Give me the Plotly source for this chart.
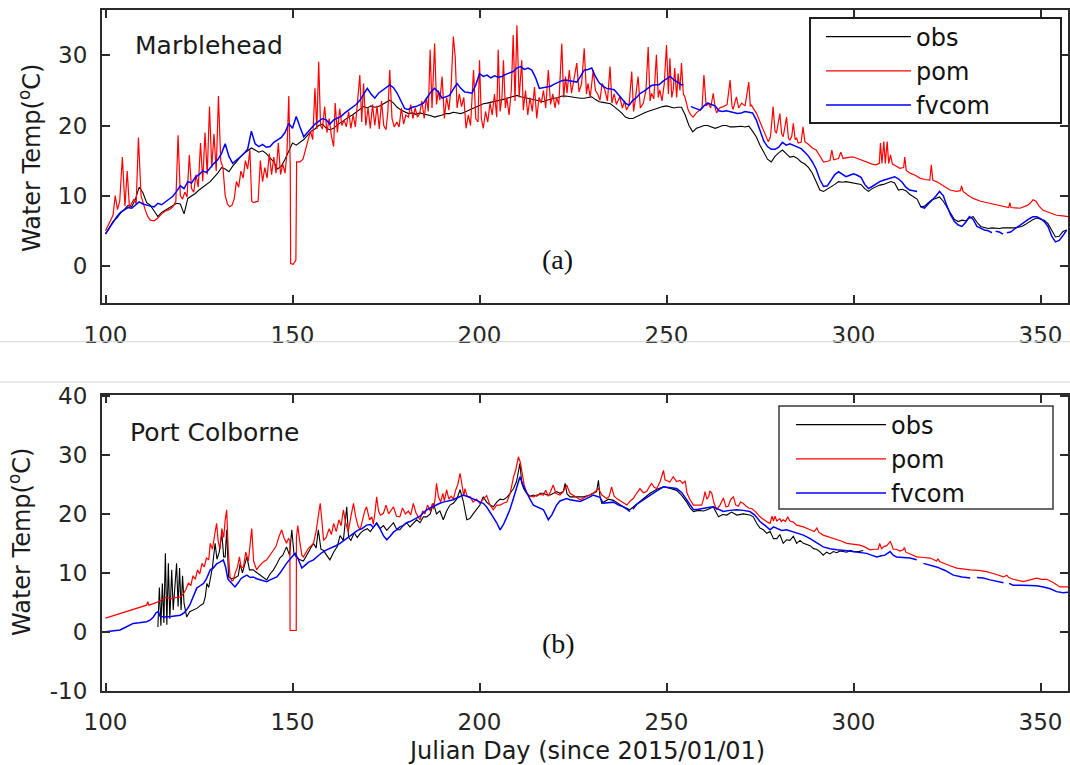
import plotly.graph_objects as go

# ---------------- DATA (Julian day, water temperature °C) ----------------
# (a) Marblehead
mh_obs = [(100,4.6),(101,5.5),(102,6.3),(103,6.8),(104,7.5),(105,8.0),(106,8.6),(107,8.4),(108,9.5),(109,11.2),(110,10.4),(111,9.0),(112,8.6),(113,7.8),(114,7.0),(115,7.6),(116,7.9),(117,8.2),(118,8.6),(119,8.9),(120,8.8),(121,7.4),(122,9.6),(123,9.9),(124,10.3),(125,10.8),(126,11.2),(127,11.6),(128,12.0),(129,12.6),(130,13.2),(131,14.0),(132,13.8),(133,13.4),(134,14.2),(135,14.8),(136,15.5),(137,16.0),(138,16.4),(139,16.8),(140,16.5),(141,16.2),(142,16.4),(143,16.0),(144,15.4),(145,14.8),(146,13.8),(147,14.2),(148,15.2),(149,16.3),(150,17.5),(151,17.2),(152,17.6),(153,18.0),(154,18.6),(155,19.2),(156,19.5),(157,20.0),(158,20.2),(159,19.6),(160,19.4),(161,19.6),(162,20.1),(163,20.5),(164,20.8),(165,21.2),(166,21.5),(167,21.9),(168,22.3),(169,22.7),(170,22.5),(171,22.8),(172,22.6),(173,22.7),(174,23.0),(175,23.3),(176,23.6),(177,23.2),(178,22.6),(179,22.2),(180,21.9),(181,21.7),(182,21.8),(183,21.6),(184,21.8),(185,21.7),(186,21.5),(187,21.4),(188,21.2),(189,21.3),(190,21.5),(191,21.7),(192,21.7),(193,21.9),(194,21.8),(195,21.7),(196,21.9),(197,22.2),(198,22.4),(199,22.6),(200,22.9),(201,23.1),(202,23.2),(203,23.3),(204,23.4),(205,23.5),(206,23.6),(207,23.8),(208,24.0),(209,24.2),(210,24.3),(211,24.1),(212,24.0),(213,23.9),(214,23.8),(215,23.6),(216,23.5),(217,23.4),(218,23.6),(219,23.8),(220,23.9),(221,24.0),(222,24.2),(223,24.2),(224,24.1),(225,24.1),(226,24.0),(227,23.9),(228,23.9),(229,24.0),(230,24.1),(231,23.7),(232,23.4),(233,23.3),(234,23.2),(235,23.1),(236,22.7),(237,22.3),(238,21.8),(239,21.2),(240,21.0),(241,21.0),(242,21.3),(243,21.6),(244,21.8),(245,22.0),(246,22.2),(247,22.4),(248,22.6),(249,22.7),(250,22.8),(251,22.7),(252,22.5),(253,22.6),(254,22.6),(255,21.5),(256,20.0),(257,19.1),(258,19.6),(259,19.8),(260,20.0),(261,20.0),(262,19.8),(263,19.6),(264,19.8),(265,20.0),(266,20.0),(267,19.8),(268,19.8),(269,19.9),(270,19.9),(271,19.8),(272,19.9),(273,19.2),(274,18.4),(275,17.2),(276,16.2),(277,15.2),(278,14.8),(279,15.6),(280,16.1),(281,16.5),(282,16.0),(283,15.5),(284,15.6),(285,15.3),(286,14.8),(287,14.5),(288,14.0),(289,13.2),(290,12.0),(291,10.8),(292,10.6),(293,10.9),(294,11.3),(295,11.6),(296,12.0),(297,11.9),(298,12.0),(299,11.9),(300,11.9),(301,11.8),(302,11.6),(303,11.0),(304,10.6),(305,11.0),(306,11.3),(307,11.5),(308,11.6),(309,11.8),(310,12.0),(311,11.8),(312,10.8),(313,10.9),(314,10.7),(315,10.2),(316,9.8),(317,9.5),(318,8.4),(319,8.5),(320,9.0),(321,9.4),(322,9.6),(323,9.8),(324,9.2),(325,8.3),(326,7.6),(327,6.6),(328,6.3),(329,6.5),(330,6.4),(331,6.8),(332,7.0),(333,6.2),(334,5.6),(335,5.4),(336,5.3),(337,5.4),(338,5.3),(339,5.3),(340,5.4),(341,5.4),(342,5.3),(343,5.4),(344,5.5),(345,5.6),(346,5.9),(347,6.3),(348,6.6),(349,6.8),(350,6.6),(351,6.5),(352,6.0),(353,5.0),(354,4.1),(355,4.2),(356,4.9),(357,5.1)]

mh_pom = [(100,5.0),(101,6.2),(102,7.2),(102.6,10.0),(103.2,8.0),(103.8,9.2),(104.5,15.5),(105.2,8.5),(105.8,13.5),(106.4,8.3),(107,9.0),(107.6,9.5),(108.2,8.8),(108.8,18.3),(109.5,10.0),(110,9.0),(110.6,8.0),(111.3,7.0),(112,6.5),(113,6.4),(114,6.8),(115,7.4),(116,7.8),(117,8.0),(118,8.4),(118.8,9.2),(119.4,18.6),(120,10.0),(120.6,9.5),(121.2,10.5),(121.8,9.8),(122.4,15.8),(123,11.0),(123.6,10.5),(124.2,13.0),(124.8,11.2),(125.4,17.5),(126,12.0),(126.6,19.0),(127.2,13.0),(127.8,22.7),(128.4,14.0),(129,18.8),(129.6,13.5),(130.2,24.2),(130.8,15.0),(131.4,14.0),(132,10.0),(132.6,8.8),(133.2,8.4),(133.8,8.6),(134.4,9.5),(135,12.0),(135.6,11.2),(136.2,13.5),(136.8,12.5),(137.4,15.0),(138,13.8),(138.6,16.5),(139.1,9.2),(139.6,9.0),(140.2,9.1),(140.8,9.2),(141.4,15.0),(142,12.0),(142.6,14.0),(143.2,12.5),(143.8,16.0),(144.4,13.0),(145,15.5),(145.6,13.2),(146.2,17.5),(146.8,13.0),(147.4,14.5),(148,13.2),(148.5,16.0),(149,24.2),(149.4,14.0),(149.5,0.3),(150.2,0.2),(150.9,0.8),(151.1,14.8),(152,14.8),(152.8,15.2),(153.5,16.5),(154.2,17.8),(154.8,19.2),(155.4,18.0),(156,25.3),(156.5,19.5),(157,29.1),(157.5,20.0),(158,19.5),(158.6,22.7),(159.2,19.0),(159.8,21.0),(160.4,18.5),(161,17.0),(161.4,23.2),(162,19.0),(162.6,22.4),(163.2,20.0),(163.8,20.8),(164.4,19.8),(165,22.0),(165.6,19.6),(166.2,21.5),(166.8,19.8),(167.5,23.5),(168,27.2),(168.5,20.5),(169,26.0),(169.6,20.0),(170.2,22.5),(170.8,19.6),(171.4,23.0),(172,20.0),(172.6,22.8),(173.2,19.5),(173.8,23.5),(174.4,20.0),(175,19.4),(175.5,22.0),(176,27.9),(176.6,21.0),(177.2,19.8),(177.9,20.5),(178.5,19.8),(179.1,22.5),(179.7,20.2),(180.3,21.5),(181,21.2),(181.6,23.0),(182.2,21.0),(182.8,22.5),(183.4,21.2),(184,21.7),(184.6,23.5),(185.2,21.0),(185.8,24.0),(186.3,22.0),(186.8,30.8),(187.3,22.5),(188,31.7),(188.5,23.0),(189,25.0),(189.4,23.6),(190,27.0),(190.6,21.0),(191.2,24.0),(191.8,22.2),(192.4,25.5),(193,32.7),(193.5,29.8),(194,22.5),(194.6,24.5),(195.2,22.7),(195.8,24.0),(196.4,19.6),(197,21.5),(197.6,20.0),(198.4,27.9),(199,21.0),(199.6,20.5),(200,29.3),(200.5,21.0),(201,19.6),(201.6,22.0),(202.2,20.5),(202.8,23.2),(203.4,21.5),(204,24.5),(204.6,21.2),(205,30.8),(205.5,22.0),(206,24.0),(206.4,29.3),(206.9,22.5),(207.3,24.0),(207.9,21.5),(208.5,25.0),(209,32.9),(209.5,23.5),(210,34.3),(210.6,24.0),(211.3,29.3),(211.7,22.2),(212.3,25.0),(212.9,21.5),(213.5,24.0),(214.1,22.0),(214.7,25.5),(215.3,21.0),(215.9,24.0),(216.5,23.2),(217.1,25.0),(217.7,22.5),(218.4,27.9),(219,23.0),(219.6,24.5),(220.2,22.5),(220.6,24.0),(221.2,23.0),(222,31.7),(222.5,24.0),(223,27.0),(223.4,24.6),(224,27.9),(224.6,24.6),(225.3,26.5),(226,28.9),(226.6,24.8),(227.3,26.0),(228,31.0),(228.6,24.5),(229,26.0),(229.6,24.0),(230.4,27.9),(231,25.0),(231.6,24.5),(232.2,23.6),(232.8,26.0),(233.5,25.1),(234.2,23.5),(234.9,28.4),(235.4,23.2),(236,24.5),(236.6,23.0),(237.5,24.1),(238.2,22.5),(238.8,23.5),(239.3,22.2),(240,23.0),(240.7,27.7),(241.2,22.0),(241.6,23.5),(242.4,27.0),(243,22.5),(243.8,23.2),(244.5,25.0),(245.1,31.2),(245.6,23.5),(246,24.6),(246.6,23.8),(247.3,30.1),(247.8,24.0),(248.2,25.1),(248.8,23.5),(249.4,26.0),(250,31.5),(250.5,24.5),(250.9,29.6),(251.4,24.0),(251.8,25.1),(252.2,28.2),(252.7,24.0),(253.1,27.4),(253.6,25.0),(254,28.9),(254.5,24.5),(254.9,24.1),(255.8,22.2),(256.5,21.5),(257.1,21.2),(258,21.8),(258.9,22.2),(259.5,22.5),(260,27.2),(260.6,22.8),(261.2,23.2),(261.8,22.5),(262.5,24.6),(263,22.5),(263.4,21.8),(264.2,22.5),(265.2,22.7),(266.2,23.0),(267,26.5),(267.5,22.8),(267.8,22.3),(268.7,24.1),(269.3,22.5),(270.1,23.2),(271,22.8),(272,26.2),(272.4,22.8),(272.7,22.9),(273.4,22.3),(274.1,21.7),(275,20.5),(275.9,19.4),(276.6,18.4),(277.2,17.7),(277.8,18.4),(278.5,22.7),(279,19.2),(279.4,18.9),(280.3,21.7),(280.8,18.8),(281.2,18.4),(282.1,21.2),(282.6,18.2),(283,17.9),(283.5,18.5),(283.9,20.3),(284.4,18.0),(284.8,18.2),(285.2,17.5),(286,17.6),(286.5,19.8),(287,17.7),(288,17.3),(289,16.8),(290,16.5),(291,15.6),(292,14.8),(293,14.9),(293.7,15.0),(294.2,16.5),(294.7,15.1),(296,15.3),(296.6,16.2),(297.2,15.3),(298,15.4),(299,15.5),(300,15.5),(301,15.3),(302,15.0),(303,14.8),(304,14.6),(305,14.5),(306,14.4),(306.9,14.6),(307.2,17.5),(307.6,14.6),(308.1,17.7),(308.5,14.6),(309,17.7),(309.4,14.6),(309.9,15.8),(310.4,14.5),(311.5,14.2),(312.4,13.9),(313.4,14.0),(313.7,15.5),(314.1,13.6),(315.1,13.2),(316.5,12.9),(317.8,12.5),(319,12.3),(320.4,12.2),(320.8,14.4),(321.2,12.2),(322.2,12.0),(324,11.4),(325.8,10.8),(327.5,10.6),(328.6,10.7),(328.9,11.4),(329.3,10.6),(330.5,10.1),(332,9.6),(334,9.2),(336.5,8.9),(338,8.7),(340,8.4),(341.5,8.3),(341.8,9.0),(342.1,8.3),(344.5,8.2),(346.5,8.6),(347.2,8.9),(348,9.4),(348.8,9.2),(349.6,8.5),(350.7,7.9),(352.5,7.6),(354.3,7.2),(356,7.1),(357.4,7.0)]

mh_fvcom = [(100,4.5),(101,5.4),(102,6.3),(103,7.0),(104,7.6),(105,8.0),(106,8.3),(107,8.2),(108,8.6),(109,9.1),(110,8.8),(111,8.6),(112,8.5),(113,8.4),(114,8.9),(115,8.7),(116,9.1),(117,9.6),(118,9.9),(119,10.6),(120,11.4),(121,11.0),(122,12.0),(123,11.8),(124,12.6),(125,13.0),(126,13.5),(127,13.3),(128,14.0),(129,14.6),(130,15.1),(131,16.0),(132,17.4),(133,15.6),(134,14.6),(135,15.0),(136,15.5),(137,16.0),(138,16.6),(139,19.2),(140,17.4),(141,17.0),(142,17.3),(143,16.9),(144,17.0),(145,17.6),(146,17.9),(147,18.3),(148,19.0),(149,20.3),(150,19.6),(151,21.3),(152,19.8),(153,18.4),(154,19.0),(155,19.6),(156,20.2),(157,20.6),(158,21.0),(159,20.8),(160,20.2),(161,20.8),(162,21.0),(163,21.3),(164,21.8),(165,22.2),(166,22.6),(167,23.0),(168,23.6),(169,24.4),(170,25.3),(171,24.5),(172,23.9),(173,24.6),(174,25.0),(175,25.4),(176,25.8),(177,25.4),(178,24.6),(179,23.5),(180,22.4),(181,22.3),(182,22.6),(183,22.7),(184,22.9),(185,23.2),(186,24.0),(187,24.8),(188,25.3),(189,24.8),(190,23.9),(191,24.1),(192,24.3),(193,25.2),(194,26.0),(195,25.3),(196,24.8),(197,24.7),(198,24.6),(199,25.8),(200,27.4),(201,27.0),(202,27.2),(203,26.8),(204,27.1),(205,26.9),(206,27.0),(207,27.3),(208,27.5),(209,27.7),(210,28.2),(211,28.4),(212,28.0),(213,28.2),(214,27.9),(215,26.8),(216,25.3),(217,25.4),(218,25.5),(219,25.6),(220,25.9),(221,26.2),(222,26.4),(223,26.5),(224,26.4),(225,26.3),(226,26.2),(227,27.0),(228,27.9),(229,28.0),(230,28.2),(231,27.0),(232,26.1),(233,25.6),(234,25.3),(235,25.2),(236,25.1),(237,24.5),(238,23.8),(239,23.2),(240,22.9),(241,23.6),(242,24.0),(243,24.6),(244,24.9),(245,25.3),(246,25.7),(247,25.8),(248,25.8),(249,26.3),(250,26.7),(251,27.0),(252,26.5),(253,26.2),(254,25.8),(254.5,25.8),(255,None),(256.5,22.7),(257,22.6),(258,22.4),(259,22.2),(260,22.8),(261,23.2),(262,23.0),(263,22.8),(264,22.1),(265,22.0),(266,22.1),(267,22.0),(268,21.8),(269,21.7),(270,21.8),(271,22.0),(272,21.9),(273,21.8),(274,20.8),(275,19.4),(276,17.8),(277,17.0),(278,16.6),(279,16.6),(280,16.9),(281,17.6),(282,17.2),(283,17.4),(284,17.2),(285,17.0),(286,16.7),(287,16.2),(288,15.6),(289,14.8),(290,13.8),(291,12.3),(292,11.3),(293,11.4),(294,12.2),(295,13.0),(296,13.4),(297,13.0),(298,12.7),(299,12.9),(300,13.1),(301,12.9),(302,12.6),(303,11.6),(304,11.0),(305,11.3),(306,11.7),(307,12.0),(308,12.2),(309,12.4),(310,12.6),(311,12.7),(312,12.4),(313,11.9),(314,11.2),(315,10.8),(316,10.7),(317,10.6),(317.4,None),(318,8.4),(319,8.2),(320,8.8),(321,9.3),(322,9.9),(323,10.6),(324,10.0),(325,8.5),(326,7.2),(327,6.3),(328,5.8),(329,5.6),(330,6.2),(331,7.0),(332,6.6),(333,5.6),(334,5.3),(335,5.1),(336,5.0),(337,4.7),(337.5,None),(338,4.9),(339,4.8),(340,4.5),(340.5,None),(341,4.7),(342,4.8),(343,5.2),(344,5.6),(345,6.0),(346,6.4),(347,6.7),(348,7.0),(349,7.0),(350,6.7),(351,6.3),(352,5.6),(353,4.2),(354,3.4),(355,3.6),(356,4.3),(357,5.1)]

# (b) Port Colborne
pc_obs = [(114,0.8),(114.4,7.5),(114.8,1.0),(115.2,8.2),(115.6,1.5),(116,13.3),(116.4,1.2),(116.8,11.6),(117.2,2.2),(117.7,10.5),(118.1,3.7),(118.6,9.0),(119,11.6),(119.4,4.3),(119.8,10.8),(120.2,3.7),(120.6,9.5),(121,4.8),(121.7,2.5),(122.5,3.4),(123.5,3.7),(124.5,4.0),(125.5,4.5),(126.2,4.8),(126.7,6.0),(127.1,8.2),(127.6,7.5),(128,9.0),(128.6,11.0),(129.3,15.0),(129.8,12.3),(130.4,13.5),(131.1,16.7),(131.6,12.7),(132,12.7),(132.4,17.3),(132.9,9.3),(133.5,9.0),(134.5,9.1),(135.5,9.5),(136,11.6),(136.6,10.0),(137.3,11.5),(137.8,12.7),(138.5,10.5),(139.5,10.5),(140.5,10.0),(141.5,9.5),(142.5,9.0),(143.1,8.8),(144,9.8),(144.9,10.5),(145.8,11.5),(146.6,12.5),(147.4,13.0),(148.4,14.4),(149.2,13.0),(149.8,17.3),(150.4,13.2),(151,12.7),(152,12.2),(152.9,12.0),(153.8,13.0),(154.7,14.0),(155.6,15.0),(156.3,14.2),(156.9,17.3),(157.6,14.0),(158.3,13.8),(159.1,13.0),(160,12.2),(161,13.5),(162,14.5),(162.7,16.3),(163.6,15.5),(164.5,21.2),(165,16.0),(165.6,15.5),(166.5,16.8),(167.3,16.0),(168.1,16.7),(169,17.2),(170,17.5),(170.8,17.0),(171.6,17.8),(172.5,18.5),(173.4,17.5),(174.3,18.0),(175.2,17.2),(176.1,17.8),(177,18.5),(177.9,17.3),(178.7,17.3),(179.6,18.0),(180.5,18.5),(181.4,17.8),(182.3,18.4),(183.2,19.0),(184.1,18.5),(185,19.5),(185.9,19.5),(186.8,20.0),(187.7,21.8),(188.5,20.0),(189.4,20.5),(190.3,19.0),(191.2,20.5),(192.1,21.5),(193,21.8),(193.9,22.5),(194.8,24.1),(195.7,22.0),(196.6,19.0),(197.4,19.2),(198.3,20.0),(199.2,20.7),(200.1,21.5),(201,22.9),(201.9,22.0),(202.8,21.5),(203.7,21.2),(204.6,22.0),(205.5,22.5),(206.4,22.4),(207.3,22.8),(208.2,23.5),(209.1,24.3),(209.9,25.5),(210.4,27.0),(210.8,28.6),(211.3,25.2),(211.8,24.3),(212.6,23.5),(213.5,23.0),(214.4,23.2),(215.3,23.0),(216.2,23.5),(217.1,23.5),(218,23.2),(218.9,23.2),(219.8,23.5),(220.6,23.8),(221.5,23.5),(222.4,23.8),(222.9,25.2),(223.4,23.4),(224.2,22.9),(225.1,22.9),(226,22.8),(227.8,22.9),(229.5,23.2),(230.4,23.5),(231.3,23.8),(231.8,25.7),(232.2,23.0),(232.7,21.8),(233.6,22.2),(234.5,22.5),(235.8,22.3),(237,21.8),(238.5,21.2),(240.2,20.7),(242,21.6),(243.8,22.5),(245.6,23.5),(247.4,24.2),(249.2,24.6),(251,24.3),(252.7,24.0),(254,23.2),(255.4,22.0),(256.3,21.0),(257.2,20.4),(258.5,20.6),(259.9,20.5),(261.2,20.8),(262.5,21.2),(263.9,19.5),(265,19.9),(266.1,19.8),(267.4,20.3),(268.8,19.8),(270.5,20.0),(272.3,19.8),(273.2,19.5),(274.1,18.4),(275,17.6),(275.9,17.3),(276.8,16.7),(277.7,17.0),(278.6,15.8),(279.5,15.8),(280.3,16.5),(281.2,15.0),(282.1,15.6),(283,15.5),(283.9,16.2),(284.8,15.0),(285.7,15.5),(286.6,15.0),(287.5,14.8),(288.4,14.6),(289.3,14.1),(290.1,14.0),(291,13.6),(291.9,13.0),(292.8,13.5),(293.7,13.2),(294.6,13.6),(295.5,13.4),(296.4,13.7),(297.3,13.6),(298.2,13.5),(299.1,13.8),(300,13.6),(301.3,13.6),(302.6,13.8)]

pc_pom = [(100,2.3),(102,2.7),(104,3.1),(106,3.5),(108,3.9),(110,4.3),(111,4.5),(111.3,5.1),(111.6,4.5),(113,4.8),(114.5,5.2),(116,5.8),(117.5,5.6),(119,5.8),(120,5.9),(120.8,6.4),(121.5,7.2),(122.2,8.3),(122.8,7.8),(123.4,9.5),(124,8.9),(124.6,10.5),(125.2,9.8),(125.8,11.6),(126.4,11.0),(127,12.5),(127.6,12.2),(128,15.0),(128.6,14.0),(129.2,16.5),(129.7,18.4),(130.1,15.5),(130.6,14.0),(131.1,17.5),(131.6,16.0),(132,19.0),(132.4,20.7),(132.8,14.0),(133.3,9.3),(133.8,8.6),(134.2,8.8),(134.7,10.0),(135.3,11.0),(135.8,12.7),(136.3,10.8),(136.9,11.0),(137.5,13.5),(138.2,12.0),(138.7,15.5),(139.1,17.5),(139.6,12.0),(140.4,10.5),(141.2,11.2),(142.1,11.8),(143.1,12.2),(144,13.0),(144.9,13.9),(145.6,14.5),(146.3,16.0),(147.1,17.3),(147.7,16.0),(148.4,15.0),(148.9,15.8),(149.3,15.5),(149.35,0.2),(151,0.2),(151.05,16.0),(151.4,18.0),(151.9,15.5),(152.5,13.0),(152.9,12.7),(153.6,13.5),(154.3,14.2),(155,14.6),(155.6,15.0),(156.3,17.0),(156.9,19.5),(157.4,21.8),(157.9,18.5),(158.3,15.5),(159,16.0),(159.8,17.5),(160.4,16.5),(161,18.4),(161.7,17.0),(162.4,19.0),(163,18.0),(163.6,20.7),(164.2,18.5),(164.9,17.0),(165.6,19.5),(166.3,21.8),(166.9,19.5),(167.5,18.0),(168.1,17.3),(168.8,19.5),(169.3,20.5),(169.8,21.2),(170.6,19.0),(171.2,19.5),(171.6,18.2),(172.1,20.5),(172.5,22.9),(173,20.5),(173.5,19.8),(174.3,20.1),(175,21.5),(175.7,20.0),(176.3,20.5),(177,21.2),(177.8,19.6),(178.7,19.5),(179.4,21.0),(180.2,20.0),(181,20.5),(181.6,19.8),(182.3,21.8),(183,20.2),(183.6,19.5),(184.1,19.0),(184.8,20.5),(185.4,20.0),(186.1,21.5),(186.8,20.5),(187.4,21.8),(187.7,20.8),(188.2,23.0),(188.5,25.2),(189,23.0),(189.6,22.0),(190.2,23.5),(190.6,22.2),(191.2,24.1),(191.8,22.5),(192.4,23.0),(193,22.5),(193.6,24.0),(194.2,25.0),(194.8,26.9),(195.3,24.5),(195.8,23.0),(196.1,24.3),(196.7,23.0),(197.5,22.9),(198.3,22.0),(199.2,22.5),(200.1,21.8),(201,22.5),(201.9,23.1),(202.8,21.5),(203.7,20.7),(204.6,21.5),(205.5,21.5),(206.4,21.8),(207.3,22.0),(208.2,23.5),(209.1,26.3),(209.7,27.5),(210.4,29.7),(210.9,28.8),(211.3,27.4),(211.9,25.0),(212.6,23.5),(213.5,23.0),(214.4,22.9),(215.3,23.2),(216.2,23.3),(217.1,23.2),(217.7,24.0),(218.4,23.0),(219,23.8),(219.7,24.9),(220.4,23.5),(221,23.3),(221.5,23.2),(222.4,23.8),(223.3,24.9),(224.2,23.5),(225.1,23.2),(226,22.8),(226.9,22.4),(228.2,22.8),(229.5,23.2),(230.6,23.6),(231.8,24.3),(232.7,23.2),(234,22.6),(234.7,23.0),(235.3,24.6),(236,23.0),(236.7,22.6),(238,22.0),(239.4,21.5),(240.3,22.2),(241.1,22.6),(242,23.5),(242.9,24.3),(243.8,23.6),(244.7,23.8),(245.4,24.6),(246,25.2),(246.7,24.5),(247.4,24.3),(248.3,25.5),(249.2,27.4),(249.6,25.8),(250.05,25.7),(250.9,25.4),(251.8,26.3),(252.7,25.5),(253.6,25.7),(254.3,25.2),(255,25.6),(255.5,23.5),(256.3,22.4),(257.2,21.5),(258.3,21.5),(259.4,21.5),(259.9,22.5),(260.3,23.8),(260.8,22.5),(261.3,23.0),(261.6,23.9),(262.1,23.5),(262.7,21.8),(263.4,20.7),(264.3,21.5),(265.2,22.7),(265.9,21.2),(266.5,21.3),(267.2,22.5),(267.9,22.9),(268.5,21.5),(269.2,21.3),(269.8,22.0),(270.5,21.8),(271.3,21.3),(272,21.0),(272.8,20.9),(273.9,20.3),(275,19.5),(276,19.0),(277,18.6),(277.7,18.4),(278.2,19.6),(278.6,18.8),(279,19.6),(279.5,18.8),(280.3,19.2),(280.7,18.7),(281.2,19.0),(281.8,18.7),(282.4,19.5),(283,18.8),(283.9,18.6),(284.8,18.1),(286.6,17.8),(288.4,17.3),(289.5,17.0),(290.2,17.6),(290.7,16.9),(291.9,16.4),(293.5,16.1),(295.1,15.8),(296.7,15.4),(298.2,15.0),(300,14.8),(301.7,14.7),(303,14.4),(304.4,13.9),(305.5,14.0),(306.6,14.0),(307,15.0),(307.5,14.1),(308.2,14.5),(308.9,14.6),(309.4,15.0),(309.8,15.3),(310.2,14.8),(310.6,14.0),(311.5,14.0),(312.4,13.7),(313.3,13.9),(313.6,14.3),(314,13.5),(315.1,13.2),(316.9,12.7),(318.7,12.6),(320.5,12.5),(322.2,12.0),(322.6,12.4),(323,11.9),(324,11.6),(325.8,11.2),(327.6,10.8),(329.4,10.6),(331.2,10.5),(333.4,10.4),(335.6,10.2),(337.8,9.8),(340.1,9.3),(341,9.6),(341.5,9.2),(342.7,8.9),(345.4,8.5),(347.2,8.8),(349,9.1),(350.3,8.9),(351.7,8.9),(353.5,8.3),(355.2,7.6),(357.4,7.6)]

pc_fvcom = [(100,0.0),(102,0.1),(103.9,0.3),(105.5,0.8),(107.4,1.4),(109,1.5),(111,1.7),(112,2.0),(112.8,2.5),(113.5,3.2),(114.1,3.4),(114.6,2.6),(115.9,2.5),(117.5,2.6),(119,2.7),(120,2.8),(121,3.2),(121.7,3.7),(122.5,4.5),(123.4,5.8),(124.4,7.4),(125.3,7.8),(126.2,8.2),(127,9.0),(128,10.5),(128.8,10.8),(129.7,11.5),(130.6,11.8),(131.5,12.2),(132.1,11.0),(132.7,9.0),(133.3,8.5),(134,8.0),(134.6,7.6),(135.5,8.3),(136.2,9.0),(136.9,9.3),(137.8,9.6),(138.7,9.2),(139.5,9.3),(140.4,9.0),(141.3,8.8),(142.2,8.7),(143.1,8.5),(144,8.8),(144.9,9.0),(145.8,9.3),(146.7,10.0),(147.5,10.8),(148.4,11.6),(149.3,12.3),(150,12.8),(150.7,13.3),(151.4,12.5),(152.5,10.8),(153.4,11.3),(154.3,11.8),(155.6,12.2),(156.7,12.8),(157.8,13.4),(159.1,13.9),(160.4,14.2),(161.6,14.6),(162.7,15.0),(163.8,15.5),(165,16.0),(166.3,16.7),(167.4,17.2),(168.6,17.5),(169.8,18.1),(170.9,18.2),(171.6,17.7),(172.5,18.4),(173.4,17.5),(174.3,16.3),(175.2,15.6),(176.1,16.2),(177,16.9),(177.8,17.3),(178.7,17.8),(179.6,18.0),(180.5,18.5),(181.4,18.7),(182.3,19.0),(183.2,19.4),(184.1,19.6),(185,20.2),(185.9,20.7),(186.8,21.0),(187.7,21.3),(188.5,21.5),(189.4,21.8),(190.3,22.0),(191.2,22.1),(192.1,22.3),(193,22.4),(193.9,22.7),(194.8,23.0),(195.7,23.2),(196.6,23.0),(197.4,22.8),(198.3,22.6),(199.2,22.3),(200.1,22.0),(201,21.8),(201.9,21.2),(202.8,20.3),(203.7,19.5),(204.6,18.5),(205.5,17.3),(206.4,18.2),(207.3,19.5),(208.1,20.7),(209,22.5),(209.9,24.5),(210.8,26.3),(211.7,24.8),(212.6,23.5),(213.5,22.5),(214.4,21.5),(215.3,21.2),(216.2,21.0),(217.1,20.7),(217.8,19.8),(218.4,19.0),(219.3,19.8),(220.6,21.5),(221.5,22.2),(222.4,22.4),(223.3,22.6),(224.2,22.4),(225.1,22.3),(226.9,22.1),(228.6,22.6),(230.4,23.2),(231.3,23.0),(232.2,22.8),(233.1,21.8),(234.5,21.9),(235.8,22.0),(237.2,21.5),(238.5,21.2),(239.4,20.8),(240.2,20.4),(240.5,None),(241,20.8),(242,21.6),(243.8,22.4),(245.6,23.2),(247.4,23.9),(249.2,24.6),(251,24.5),(252.7,24.3),(254.1,23.6),(255.4,22.4),(256.3,21.5),(257.2,20.7),(258.5,20.8),(259.9,21.0),(261.2,21.1),(262.5,21.2),(263.9,20.8),(265.2,20.4),(266.9,20.6),(268.8,20.7),(270.5,20.6),(272.3,20.4),(273.6,19.8),(275,18.7),(276.4,18.0),(277.7,17.3),(278.6,17.8),(279.5,17.6),(280.8,17.2),(282.1,17.3),(283.5,17.0),(284.8,16.8),(286.6,16.4),(288.4,15.8),(290.2,15.1),(291.9,14.4),(293.7,14.1),(295.5,13.9),(297.7,13.8),(300,13.6),(301.7,13.5),(303.5,13.3),(304.8,13.0),(306.2,12.7),(307.5,12.9),(308.4,13.0),(309.8,13.6),(310.6,13.0),(311.5,12.7),(313.3,12.6),(315.1,12.5),(316.9,12.2),(317.5,None),(318.7,11.6),(320.5,11.3),(322.2,11.0),(324.5,10.4),(326.7,9.6),(329,9.3),(331.2,9.1),(332,None),(333,9.2),(334.7,9.1),(336.5,8.8),(338.3,8.5),(340.1,8.3),(340.6,None),(341.6,8.2),(342.7,7.9),(345,7.9),(347.2,7.9),(349,7.8),(350.8,7.6),(352.6,7.3),(354.3,6.8),(356,6.6),(357.4,6.7)]

series_names = ["obs", "pom", "fvcom"]
series_colors = ["#000000", "#ff0000", "#0000ff"]
series_widths = [1.1, 1.2, 1.5]
x_ticks = [100, 150, 200, 250, 300, 350]
y_ticks_a = [0, 10, 20, 30]
y_ticks_b = [-10, 0, 10, 20, 30, 40]
y_ticktext_b = ["-10", "0", "10", "20", "30", "40"]

# ---------------- FIGURE ----------------
W, H = 1070, 765
def px(x):  # pixel -> paper x
    return x / W
def py(y):  # pixel -> paper y
    return 1 - y / H

fig = go.Figure()

panels = [
    ([mh_obs, mh_pom, mh_fvcom], "x", "y", "legend"),
    ([pc_obs, pc_pom, pc_fvcom], "x2", "y2", "legend2"),
]
for data, xa, ya, lg in panels:
    for s, name, col, wd in zip(data, series_names, series_colors, series_widths):
        fig.add_trace(go.Scatter(
            x=[p[0] for p in s], y=[p[1] for p in s], mode="lines", name=name,
            line=dict(color=col, width=wd), xaxis=xa, yaxis=ya, legend=lg,
            connectgaps=False, hoverinfo="skip"))

sans = "DejaVu Sans"
tickfont = dict(family=sans, size=23, color="#262626")
axis_common = dict(showline=True, linecolor="#2b2b2b", linewidth=2, mirror="ticks",
                   ticks="inside", ticklen=8, tickwidth=1.5, tickcolor="#2b2b2b",
                   showgrid=False, zeroline=False, tickfont=tickfont,
                   automargin=False)

xr = [99.06, 357.35]
legend_font = dict(family=sans, size=24, color="#111111")
fig.update_layout(
    width=W, height=H, margin=dict(l=0, r=0, t=0, b=0),
    paper_bgcolor="white", plot_bgcolor="white",
    xaxis=dict(domain=[px(102), px(1068)], range=xr, tickvals=x_ticks,
               anchor="y", ticklabelstandoff=10, **axis_common),
    yaxis=dict(domain=[py(303), py(10)], range=[-5.32, 36.48], tickvals=y_ticks_a,
               anchor="x", ticklabelstandoff=8, **axis_common),
    xaxis2=dict(domain=[px(102), px(1068)], range=xr, tickvals=x_ticks,
                anchor="y2", ticklabelstandoff=10, **axis_common),
    yaxis2=dict(domain=[py(690.7), py(395)], range=[-10.02, 40.19], tickvals=y_ticks_b,
                ticktext=y_ticktext_b,
                anchor="x2", ticklabelstandoff=8, **axis_common),
    legend=dict(x=px(821), y=py(14.5), xanchor="left", yanchor="top",
                bgcolor="rgba(0,0,0,0)", borderwidth=0, itemwidth=85,
                font=legend_font, tracegroupgap=0),
    legend2=dict(x=px(791), y=py(402.5), xanchor="left", yanchor="top",
                 bgcolor="rgba(0,0,0,0)", borderwidth=0, itemwidth=90,
                 font=legend_font, tracegroupgap=0),
    showlegend=True,
)

# legend frames and the light separator lines of the figure
fig.add_shape(type="rect", xref="paper", yref="paper", x0=px(810), x1=px(1061),
              y0=py(123), y1=py(18), line=dict(color="#1e1e1e", width=2),
              fillcolor="white", layer="above")
fig.add_shape(type="rect", xref="paper", yref="paper", x0=px(779), x1=px(1053),
              y0=py(509), y1=py(406), line=dict(color="#3a3a3a", width=1.5),
              fillcolor="white", layer="above")
for yy in (341.7, 382):
    fig.add_shape(type="line", xref="paper", yref="paper", x0=0, x1=1,
                  y0=py(yy), y1=py(yy), line=dict(color="#d6d6d6", width=1))

ann = [
    dict(text="Marblehead", x=px(133), y=py(45), xanchor="left", yanchor="middle",
         font=dict(family=sans, size=25, color="#1a1a1a")),
    dict(text="Port Colborne", x=px(128), y=py(432), xanchor="left", yanchor="middle",
         font=dict(family=sans, size=25, color="#1a1a1a")),
    dict(text="(a)", x=px(557), y=py(259), xanchor="center", yanchor="middle",
         font=dict(family="Liberation Serif", size=28, color="#111111")),
    dict(text="(b)", x=px(558), y=py(643), xanchor="center", yanchor="middle",
         font=dict(family="Liberation Serif", size=28, color="#111111")),
    dict(text="Water Temp(<sup>o</sup>C)", x=px(30), y=py(158), textangle=-90,
         xanchor="center", yanchor="middle",
         font=dict(family=sans, size=24, color="#1a1a1a")),
    dict(text="Water Temp(<sup>o</sup>C)", x=px(20), y=py(542), textangle=-90,
         xanchor="center", yanchor="middle",
         font=dict(family=sans, size=24, color="#1a1a1a")),
    dict(text="Julian Day (since 2015/01/01)", x=px(586), y=py(751),
         xanchor="center", yanchor="middle",
         font=dict(family=sans, size=24, color="#1a1a1a")),
]
for a in ann:
    fig.add_annotation(xref="paper", yref="paper", showarrow=False, **a)

fig.write_html("out.html")
